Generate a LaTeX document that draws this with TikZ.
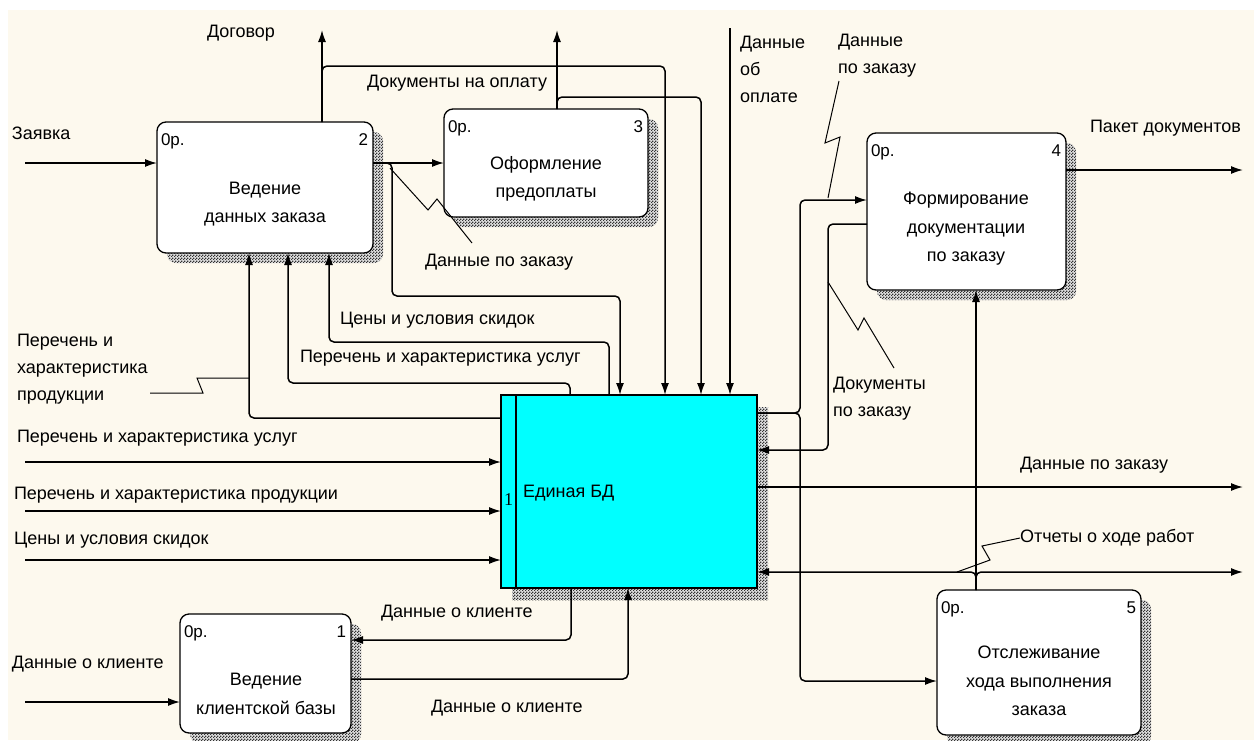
\documentclass[tikz,border=0pt]{standalone}
\usepackage{fontspec}
\setmainfont{Liberation Sans}
\newfontfamily\numfont{Liberation Serif}
\usetikzlibrary{arrows.meta,patterns,patterns.meta,shadows}
\definecolor{paper}{RGB}{253,249,238}
\definecolor{dbcyan}{RGB}{0,255,255}
% fine checkerboard used for the box shadows
\tikzdeclarepattern{name=idefhatch,type=uncolored,
  bottom left={(0pt,0pt)},top right={(3pt,3pt)},tile size={(3pt,3pt)},
  code={\fill (0pt,0pt) rectangle (1.5pt,1.5pt); \fill (1.5pt,1.5pt) rectangle (3pt,3pt);}}
\begin{document}
\begin{tikzpicture}[x=1pt,y=-1pt,
  every node/.style={inner sep=0pt,outer sep=0pt},
  lbl/.style={anchor=west,font=\fontsize{18}{27}\selectfont,align=left},
  txt/.style={font=\fontsize{18}{28.5}\selectfont,align=center},
  tag/.style={font=\fontsize{17}{20}\selectfont},
  shade/.style={fill=black!12,postaction={pattern=idefhatch,pattern color=black!80}},
  hatch/.style={general shadow={shadow xshift=10pt,shadow yshift=-10pt,shade}},
  proc/.style={draw,line width=1.3pt,rounded corners=9pt,fill=white,hatch},
  wire/.style={line width=1.5pt,rounded corners=5pt},
  tip/.style={-{Latex[length=12pt,width=8pt]}},
  zig/.style={line width=1pt},
]
\useasboundingbox (0,0) rectangle (1254,740);
\fill[white] (0,0) rectangle (1254,740);
\fill[paper] (8,10) rectangle (1254,740);

% activity boxes
\node[proc,minimum width=216,minimum height=131] (b2) at (265,187.5) {};
\node[proc,minimum width=204,minimum height=108] (b3) at (546,163) {};
\node[proc,minimum width=199,minimum height=157] (b4) at (966.5,211.5) {};
\node[proc,minimum width=204,minimum height=145] (b5) at (1039,662.5) {};
\node[proc,minimum width=171,minimum height=119] (b1) at (265.5,673.5) {};
\node[draw,line width=1.3pt,fill=dbcyan,minimum width=256,minimum height=193,
      general shadow={shadow xshift=11pt,shadow yshift=-12pt,shade}] (db) at (629,491.5) {};
\draw[line width=1.3pt] (516,0 |- db.north) -- (516,0 |- db.south);

% box captions
\node[txt] (t2) at (265,204) {Ведение\\данных заказа};
\node[txt] (t3) at (546,179) {Оформление\\предоплаты};
\node[txt] (t4) at (966,229) {Формирование\\документации\\по заказу};
\node[txt] (t5) at (1039,681) {Отслеживание\\хода выполнения\\заказа};
\node[txt] (t1) at (266,694) {Ведение\\клиентской базы};
\node[lbl] (tdb) at (523,493) {Единая БД};
\node[font=\numfont\fontsize{18}{20}\selectfont] (ndb) at (508.5,500) {1};

% corner tags
\foreach \b/\n in {b2/2,b3/3,b4/4,b5/5,b1/1}{
  \node[tag,anchor=north west] (op\b) at ([shift={(4,12)}]\b.north west) {0р.};
  \node[tag,anchor=north east] (num\b) at ([shift={(-5,12)}]\b.north east) {\n};
}

% boundary points
\coordinate (inZ) at (25,163);
\coordinate (outDog) at (322,30);
\coordinate (outDoc) at (557,30);
\coordinate (inPay) at (730,28);
\coordinate (inU) at (25,462);
\coordinate (inP) at (25,511);
\coordinate (inC) at (25,560);
\coordinate (inK) at (25,702);
\coordinate (outPak) at (1243,170);
\coordinate (outDz) at (1243,487);
\coordinate (outRep) at (1243,572);

% connectors
\draw[wire,tip] (inZ) -- (inZ -| b2.west);
\draw[wire,tip] (322,0 |- b2.north) -- (outDog);
\draw[wire,tip] (322,0 |- b2.north) -- (322,66) -- (665,66) -- (665,0 |- db.north);
\draw[wire,tip] (b2.east |- inZ) -- (b3.west |- inZ);
\draw[wire,tip] (b2.east |- inZ) -- (392,163) -- (392,296) -- (620,296) -- (620,0 |- db.north);
\draw[wire,tip] (557,0 |- b3.north) -- (outDoc);
\draw[wire,tip] (557,0 |- b3.north) -- (557,97) -- (701,97) -- (701,0 |- db.north);
\draw[wire,tip] (inPay) -- (inPay |- db.north);

\draw[wire,tip] (570,0 |- db.north) -- (570,383) -- (288,383) -- (288,0 |- b2.south);
\draw[wire,tip] (609,0 |- db.north) -- (609,342) -- (329,342) -- (329,0 |- b2.south);
\draw[wire,tip] (db.west |- 0,418) -- (249,418) -- (249,0 |- b2.south);

\draw[wire,tip] (inU) -- (inU -| db.west);
\draw[wire,tip] (inP) -- (inP -| db.west);
\draw[wire,tip] (inC) -- (inC -| db.west);

\draw[wire,tip] (571,0 |- db.south) -- (571,640) -- (b1.east |- 0,640);
\draw[wire,tip] (b1.east |- 0,679) -- (628,679) -- (628,0 |- db.south);
\draw[wire,tip] (inK) -- (inK -| b1.west);

\draw[wire,tip] (db.east |- 0,413) -- (800,413) -- (800,200) -- (b4.west |- 0,200);
\draw[wire,tip] (db.east |- 0,413) -- (800,413) -- (800,681) -- (b5.west |- 0,681);
\draw[wire,tip] (b4.west |- 0,224) -- (828,224) -- (828,450) -- (db.east |- 0,450);
\draw[wire,tip] (db.east |- outDz) -- (outDz);
\draw[wire,tip] (b4.east |- outPak) -- (outPak);
\draw[wire,tip] (976,0 |- b5.north) -- (976,0 |- b4.south);
\draw[wire,tip] (976,0 |- b5.north) -- (976,572) -- (db.east |- outRep);
\draw[wire,tip] (976,0 |- b5.north) -- (976,572) -- (outRep);

% labels
\node[lbl] (lZ) at (12,133) {Заявка};
\node[lbl] (lDog) at (207,33) {Договор};
\node[lbl] (lDoc) at (367,83) {Документы на оплату};
\node[lbl,anchor=north west] (lPay) at (740,36) {Данные\\об\\оплате};
\node[lbl,anchor=north west] (lDz1) at (838,34) {Данные\\по заказу};
\node[lbl] (lPak) at (1090,128) {Пакет документов};
\node[lbl] (lDz2) at (425,262) {Данные по заказу};
\node[lbl] (lC2) at (340,320) {Цены и условия скидок};
\node[lbl] (lU2) at (300,358) {Перечень и характеристика услуг};
\node[lbl,anchor=north west] (lP2) at (17,334) {Перечень и\\характеристика\\продукции};
\node[lbl] (lU) at (17,438) {Перечень и характеристика услуг};
\node[lbl] (lP) at (14,495) {Перечень и характеристика продукции};
\node[lbl] (lC) at (14,540) {Цены и условия скидок};
\node[lbl,anchor=north west] (lDz3) at (833,377) {Документы\\по заказу};
\node[lbl] (lDz4) at (1020,465) {Данные по заказу};
\node[lbl] (lRep) at (1020,538) {Отчеты о ходе работ};
\node[lbl] (lK1) at (381,613) {Данные о клиенте};
\node[lbl] (lK2) at (431,708) {Данные о клиенте};
\node[lbl] (lK) at (12,664) {Данные о клиенте};

% label squiggles
\draw[zig] (390,168) -- (428,210) -- (437,199) -- (472,243);
\draw[zig] (839,81) -- (825,143) -- (840,137) -- (828,198);
\draw[zig] (828,282) -- (858,330) -- (864,318) -- (894,368);
\draw[zig] (lRep.west) -- (982,546) -- (990,560) -- (957,572);
\draw[zig] (150,393) -- (203,393) -- (197,378) -- (249,378);
\end{tikzpicture}
\end{document}
